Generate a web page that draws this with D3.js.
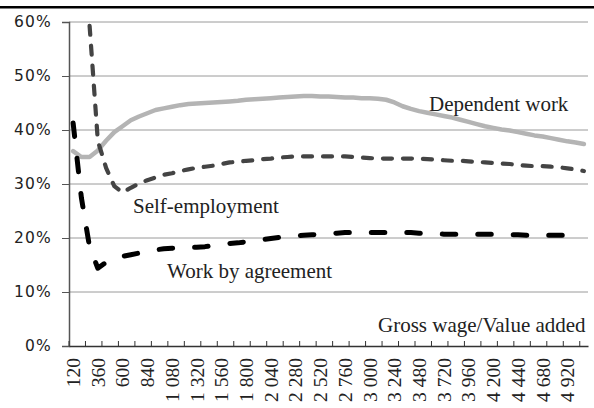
<!DOCTYPE html>
<html>
<head>
<meta charset="utf-8">
<script src="https://cdn.jsdelivr.net/npm/d3@7"></script>
<style>
  body { margin: 0; background: #fff; }
  svg { display: block; }
</style>
</head>
<body>
<div id="chart"></div>
<script>
//Chart values
var categories = [120, 200, 280, 360, 440, 520, 600, 680, 760, 840,
  920, 1000, 1080, 1160, 1240, 1320, 1400, 1480, 1560, 1640,
  1720, 1800, 1880, 1960, 2040, 2120, 2200, 2280, 2360, 2440,
  2520, 2600, 2680, 2760, 2840, 2920, 3000, 3080, 3160, 3240,
  3320, 3400, 3480, 3560, 3640, 3720, 3800, 3880, 3960, 4040,
  4120, 4200, 4280, 4360, 4440, 4520, 4600, 4680, 4760, 4840,
  4920, 5000, 5080];

var tickLabels = ["120", "360", "600", "840", "1 080", "1 320", "1 560", "1 800",
  "2 040", "2 280", "2 520", "2 760", "3 000", "3 240", "3 480", "3 720",
  "3 960", "4 200", "4 440", "4 680", "4 920"];

var yTicks = [0, 0.1, 0.2, 0.3, 0.4, 0.5, 0.6];

var dependentWork = [36.1, 35.0, 35.0, 36.2, 38.0, 39.6, 40.7, 41.8, 42.5, 43.1,
  43.7, 44.0, 44.3, 44.6, 44.8, 44.9, 45.0, 45.1, 45.2, 45.3,
  45.4, 45.6, 45.7, 45.8, 45.9, 46.0, 46.1, 46.2, 46.3, 46.3,
  46.2, 46.2, 46.1, 46.0, 46.0, 45.9, 45.9, 45.8, 45.6, 45.1,
  44.4, 43.9, 43.5, 43.2, 42.9, 42.6, 42.3, 41.9, 41.5, 41.1,
  40.7, 40.4, 40.1, 39.9, 39.6, 39.3, 39.0, 38.8, 38.5, 38.2,
  37.9, 37.7, 37.4];

var selfEmployment = [null, null, 59.3, 38.0, 33.0, 29.6, 28.4, 29.3, 30.1, 30.7,
  31.2, 31.7, 32.0, 32.4, 32.7, 33.0, 33.2, 33.4, 33.7, 34.0,
  34.1, 34.3, 34.4, 34.6, 34.7, 34.9, 35.0, 35.1, 35.1, 35.1,
  35.1, 35.1, 35.1, 35.1, 35.0, 34.9, 34.8, 34.7, 34.7, 34.7,
  34.7, 34.7, 34.7, 34.6, 34.5, 34.4, 34.3, 34.3, 34.2, 34.1,
  34.0, 33.9, 33.8, 33.7, 33.5, 33.4, 33.3, 33.3, 33.2, 33.1,
  32.9, 32.7, 32.4];

var workByAgreement = [41.3, 27.5, 18.3, 14.4, 15.5, 16.2, 16.6, 16.9, 17.2, 17.5,
  17.8, 18.0, 18.1, 18.2, 18.3, 18.3, 18.4, 18.6, 18.8, 19.0,
  19.1, 19.3, 19.5, 19.7, 19.9, 20.1, 20.3, 20.4, 20.5, 20.6,
  20.7, 20.8, 20.9, 21.0, 21.0, 21.0, 21.0, 21.0, 21.0, 21.0,
  21.0, 21.0, 20.9, 20.8, 20.8, 20.7, 20.7, 20.7, 20.7, 20.7,
  20.7, 20.7, 20.6, 20.6, 20.6, 20.5, 20.5, 20.5, 20.5, 20.5,
  20.5, 20.5, 20.5];

//SVG size and plot box
var svgWidth = 594;
var svgHeight = 408;
var plot = { left: 69, right: 588, top: 22, bottom: 346 };

var svg = d3.select("#chart")
  .append("svg")
  .attr("width", svgWidth)
  .attr("height", svgHeight);

//Scales
var xScale = d3.scaleBand()
  .domain(categories)
  .range([plot.left, plot.right])
  .padding(0);

var yScale = d3.scaleLinear()
  .domain([0, 0.6])
  .range([plot.bottom, plot.top]);

//Thick rule at the top
svg.append("rect")
  .attr("x", 0)
  .attr("y", 6)
  .attr("width", svgWidth)
  .attr("height", 2.5)
  .attr("fill", "#000");

//Gridlines
svg.append("g")
  .selectAll("line")
  .data(yTicks.filter(d => d > 0))
  .enter()
  .append("line")
  .attr("x1", plot.left)
  .attr("x2", plot.right)
  .attr("y1", d => yScale(d))
  .attr("y2", d => yScale(d))
  .attr("stroke", "#9a9a9a")
  .attr("stroke-width", 1);

//Y axis
var yAxis = svg.append("g")
  .attr("transform", `translate(${plot.left}, 0)`)
  .call(d3.axisLeft(yScale).tickValues(yTicks).tickFormat(d3.format(".0%")).tickSize(7).tickPadding(10));

yAxis.select(".domain").attr("stroke", "#555").attr("stroke-width", 1.5);
yAxis.selectAll(".tick line").attr("stroke", "#555");
yAxis.selectAll("text")
  .attr("font-family", "DejaVu Sans, sans-serif")
  .attr("font-size", "15.5px")
  .attr("letter-spacing", "1.2px")
  .attr("fill", "#222");

//X axis: inside ticks every two categories
var tickCats = categories.filter((d, i) => i % 2 === 0);

svg.append("g")
  .selectAll("line")
  .data(tickCats)
  .enter()
  .append("line")
  .attr("x1", d => xScale(d))
  .attr("x2", d => xScale(d))
  .attr("y1", plot.bottom)
  .attr("y2", plot.bottom - 5)
  .attr("stroke", "#333")
  .attr("stroke-width", 1);

var labelCats = categories.filter((d, i) => i % 3 === 0);

var xAxis = svg.append("g")
  .attr("transform", `translate(0, ${plot.bottom})`)
  .call(d3.axisBottom(xScale)
    .tickValues(labelCats)
    .tickFormat((d, i) => tickLabels[i])
    .tickSize(0));

xAxis.select(".domain").attr("stroke", "#333").attr("stroke-width", 1.5);
xAxis.selectAll("text")
  .attr("transform", "rotate(-90)")
  .attr("x", -12)
  .attr("y", 0)
  .attr("dy", "0.35em")
  .attr("text-anchor", "end")
  .attr("font-family", "Liberation Serif, serif")
  .attr("font-size", "19.5px")
  .attr("fill", "#222");

//Series lines
var lineGen = d3.line()
  .defined(d => d != null)
  .x((d, i) => xScale(categories[i]) + xScale.bandwidth() / 2)
  .y(d => yScale(d / 100));

svg.append("path")
  .datum(dependentWork)
  .attr("d", lineGen)
  .attr("fill", "none")
  .attr("stroke", "#b4b4b4")
  .attr("stroke-width", 4.5)
  .attr("stroke-linejoin", "round")
  .attr("stroke-linecap", "round");

svg.append("path")
  .datum(selfEmployment)
  .attr("d", lineGen)
  .attr("fill", "none")
  .attr("stroke", "#444")
  .attr("stroke-width", 4.2)
  .attr("stroke-dasharray", "9,11")
  .attr("stroke-linejoin", "round")
  .attr("stroke-linecap", "round");

svg.append("path")
  .datum(workByAgreement)
  .attr("d", lineGen)
  .attr("fill", "none")
  .attr("stroke", "#000")
  .attr("stroke-width", 5)
  .attr("stroke-dasharray", "13.5,22")
  .attr("stroke-linejoin", "round")
  .attr("stroke-linecap", "round");

//Annotations
var notes = [
  { text: "Dependent work", x: 429, y: 110.5 },
  { text: "Self-employment", x: 133, y: 212.5 },
  { text: "Work by agreement", x: 167, y: 278 },
  { text: "Gross wage/Value added", x: 378, y: 332 }
];

svg.append("g")
  .selectAll("text")
  .data(notes)
  .enter()
  .append("text")
  .attr("x", d => d.x)
  .attr("y", d => d.y)
  .attr("font-family", "Liberation Serif, serif")
  .attr("font-size", "21px")
  .attr("fill", "#222")
  .text(d => d.text);
</script>
</body>
</html>
